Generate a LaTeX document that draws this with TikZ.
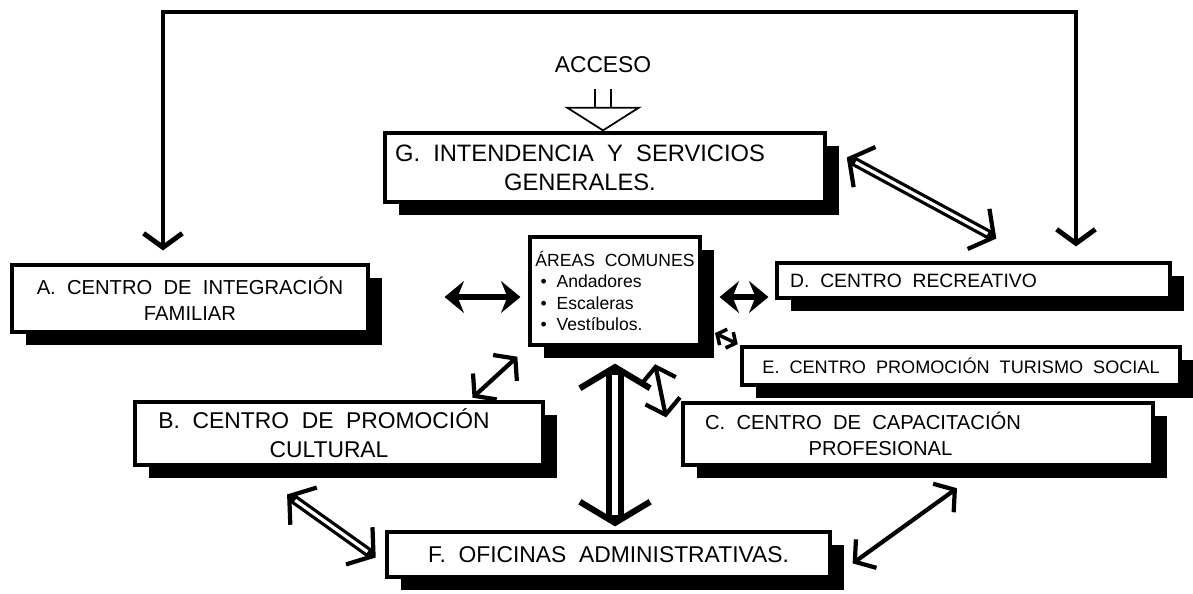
\documentclass[tikz,border=0pt]{standalone}
\usepackage{fontspec}
\setmainfont{Liberation Sans}[WordSpace=2]
\usetikzlibrary{positioning, arrows.meta, calc, shadows}

\begin{document}
\begin{tikzpicture}[x=0.02cm, y=-0.02cm,
    room/.style={draw, line width=1.8pt, fill=white, inner sep=2pt, align=center,
                 font=\fontsize{11.5}{15}\selectfont,
                 drop shadow={shadow xshift=0.28cm, shadow yshift=-0.26cm, fill=black, opacity=1}},
    link/.style={line width=2.4pt, {Straight Barb[length=8pt,width=20pt]}-{Straight Barb[length=8pt,width=20pt]}},
    smalllink/.style={line width=2pt, {Straight Barb[length=4pt,width=10pt]}-{Straight Barb[length=4pt,width=10pt]}},
    heavy/.style={line width=3pt, {Stealth[length=11pt,width=18pt]}-{Stealth[length=11pt,width=18pt]}},
    hollow/.style={line width=5.5pt, {Straight Barb[length=10pt,width=26pt,line width=2.4pt]}-{Straight Barb[length=10pt,width=26pt,line width=2.4pt]}},
    inner/.style={draw=white, line width=1.8pt, -},
    frame/.style={line width=2.8pt, {Straight Barb[length=8pt,width=22pt]}-{Straight Barb[length=8pt,width=22pt]}},
    access/.style={line width=1pt, double, double distance=8pt, -{Triangle[open, length=14pt, width=44pt]}}]

    \useasboundingbox (0,0) rectangle (1193,593);

    % Rooms
    \node[room, minimum width=8.8cm, minimum height=1.38cm, font=\fontsize{13.5}{16.5}\selectfont] (G) at (605,167.5)
        {G. INTENDENCIA Y SERVICIOS\hspace*{1cm}\\GENERALES.\hspace*{1cm}};
    \node[room, minimum width=3.4cm, minimum height=2.16cm, align=left,
          font=\fontsize{10}{12.3}\selectfont] (areas) at (615,291)
        {ÁREAS COMUNES\\\hspace*{3pt}\textbullet\ Andadores\\\hspace*{3pt}\textbullet\ Escaleras\\\hspace*{3pt}\textbullet\ Vestíbulos.};
    \node[room, minimum width=7.12cm, minimum height=1.34cm] (A) at (190,298.5)
        {A. CENTRO DE INTEGRACIÓN\\FAMILIAR};
    \node[room, minimum width=7.86cm, minimum height=0.7cm, font=\fontsize{11}{14}\selectfont] (D) at (973.5,280.5)
        {D. CENTRO RECREATIVO\hspace*{2.4cm}};
    \node[room, minimum width=8.76cm, minimum height=0.76cm, font=\fontsize{10.3}{13}\selectfont] (E) at (961,366)
        {E. CENTRO PROMOCIÓN TURISMO SOCIAL};
    \node[room, minimum width=8.16cm, minimum height=1.26cm, font=\fontsize{13}{16.5}\selectfont] (B) at (339,433.5)
        {B. CENTRO DE PROMOCIÓN\hspace*{0.6cm}\\CULTURAL\hspace*{0.4cm}};
    \node[room, minimum width=9.4cm, minimum height=1.24cm] (C) at (918,434)
        {C. CENTRO DE CAPACITACIÓN\hspace*{2.2cm}\\PROFESIONAL\hspace*{1.5cm}};
    \node[room, minimum width=8.86cm, minimum height=0.9cm, font=\fontsize{13}{16}\selectfont] (F) at (608.5,554.5)
        {F. OFICINAS ADMINISTRATIVAS.};

    \node[font=\fontsize{13}{15}\selectfont] (acceso) at (603,65) {ACCESO};

    % Outer loop A -- D
    \coordinate (cornerL) at (163,12);
    \coordinate (cornerR) at (1076,12);
    \draw[frame, shorten <=0.26cm, shorten >=0.3cm]
        (A.north -| cornerL) -- (cornerL) -- (cornerR) -- (D.north -| cornerR);

    % Access
    \draw[access, shorten <=0.2cm] (acceso.south) -- (acceso.south |- G.north);

    % Links
    \draw[heavy, shorten <=1.5cm, shorten >=0.16cm]
        ($(A.east |- areas.west)+(0,6)$) -- ($(areas.west)+(0,6)$);
    \draw[heavy, shorten <=0.36cm, shorten >=0.14cm]
        ($(areas.east)+(0,6)$) -- ($(D.west |- areas.east)+(0,6)$);
    \draw[smalllink, shorten <=0.3cm, shorten >=0.06cm]
        ($(areas.south east)+(0,-20)$) -- (E.north west);
    \draw[link, shorten <=0.08cm, shorten >=0.3cm]
        ($(B.north east)+(-75,0)$) -- (areas.south west);
    \draw[link, shorten <=0.36cm, shorten >=0.34cm]
        ($(areas.south east)+(-50,0)$) -- ($(C.west)+(-12,0)$);
    \draw[link, shorten <=0.74cm, shorten >=0.52cm]
        ($(C.south)+(69,0)$) -- (F.south east);

    % Double links
    \draw[hollow, line width=10pt,
          {Straight Barb[length=12pt,width=40pt,line width=3.5pt]}-{Straight Barb[length=12pt,width=40pt,line width=3.5pt]},
          shorten <=0.34cm, shorten >=0.08cm,
          postaction={inner, line width=3.5pt, shorten <=0.56cm, shorten >=0.3cm}]
        (areas.south) -- (areas.south |- F.north);
    \draw[hollow, shorten <=0.46cm, shorten >=0.96cm,
          postaction={inner, shorten <=0.66cm, shorten >=1.16cm}]
        ($(G.east)+(0,-21)$) -- ($(D.north)+(65,0)$);
    \draw[hollow, shorten <=0.96cm, shorten >=0.24cm,
          postaction={inner, shorten <=1.16cm, shorten >=0.44cm}]
        ($(B.south)+(-91,0)$) -- ($(F.west)+(0,10)$);
\end{tikzpicture}
\end{document}
